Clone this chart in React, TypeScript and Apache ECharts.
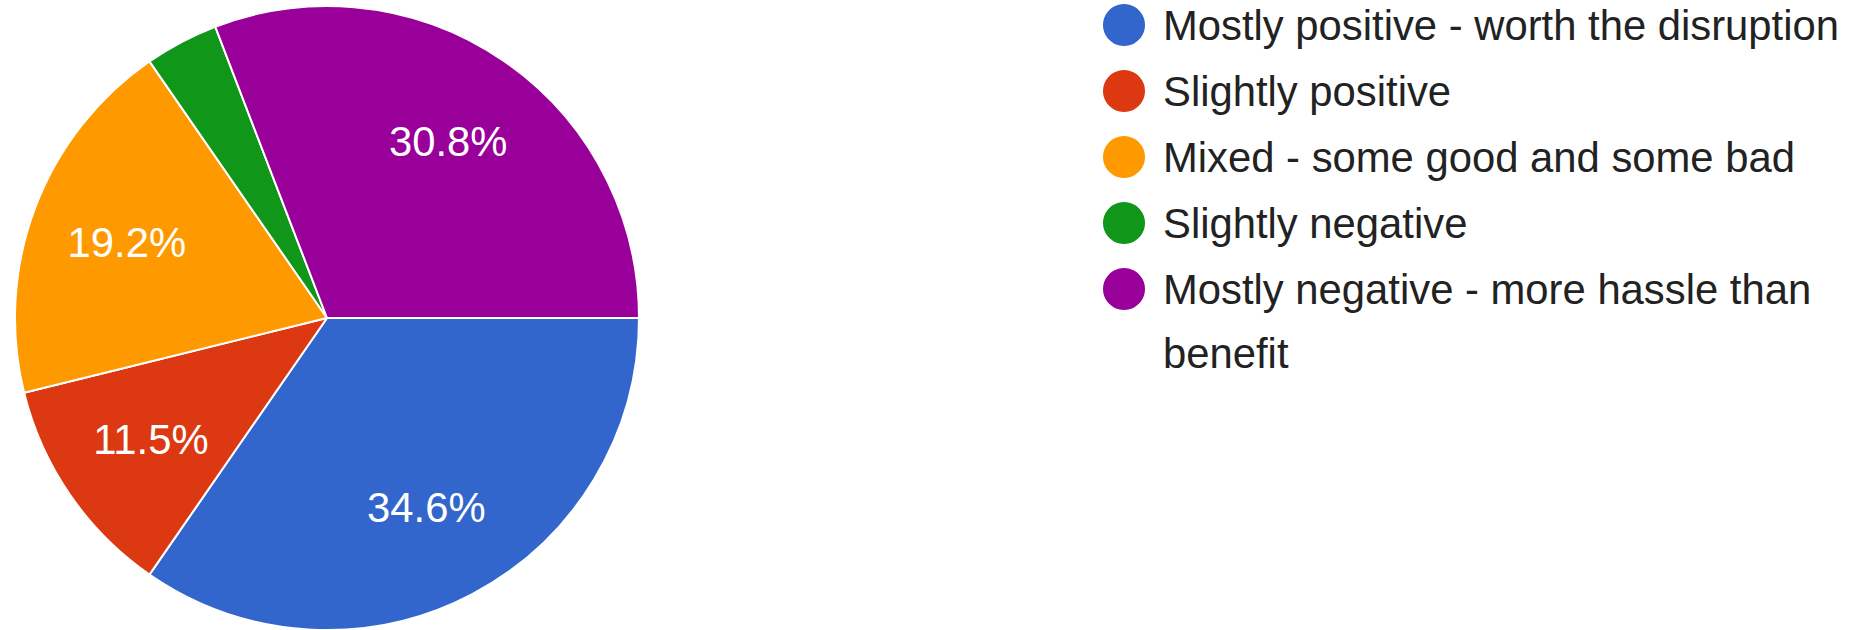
import React, { useEffect, useRef } from "react";
import * as echarts from "echarts";

const categories = [
  "Mostly positive - worth the disruption",
  "Slightly positive",
  "Mixed - some good and some bad",
  "Slightly negative",
  "Mostly negative - more hassle than benefit",
];
const percents = [34.6, 11.5, 19.2, 3.8, 30.8];
const colors = ["#3366cc", "#dc3912", "#ff9900", "#109618", "#990099"];
const legendLines = [
  "Mostly positive - worth the disruption",
  "Slightly positive",
  "Mixed - some good and some bad",
  "Slightly negative",
  "Mostly negative - more hassle than\nbenefit",
];

const FONT = 'Arial, "Liberation Sans", sans-serif';

export default function App() {
  const ref = useRef<HTMLDivElement>(null);
  useEffect(() => {
    document.body.style.margin = "0";
    if (!ref.current) return;
    const chart = echarts.init(ref.current, null, { renderer: "svg" });
    const cx = 327;
    const cy = 318;
    const R = 312;
    const legendX = 1124;
    const legendY0 = 25;
    const legendStep = 66;
    const lineH = 64;
    const graphics: any[] = [];
    categories.forEach((_, i) => {
      const y = legendY0 + legendStep * i;
      graphics.push({
        type: "circle",
        shape: { cx: legendX, cy: y, r: 21 },
        style: { fill: colors[i] },
      });
      const multi = legendLines[i].includes("\n");
      graphics.push({
        type: "text",
        x: legendX + 39,
        y: multi ? y - lineH / 2 : y,
        style: {
          text: legendLines[i],
          fill: "#222222",
          fontSize: 41.8,
          fontFamily: FONT,
          lineHeight: lineH,
          verticalAlign: multi ? "top" : "middle",
          align: "left",
        },
      });
    });
    const data = categories.map((name, i) => ({
      name,
      value: percents[i],
      itemStyle: { color: colors[i] },
    }));
    chart.setOption({
      animation: false,
      backgroundColor: "#ffffff",
      graphic: graphics,
      series: [
        {
          type: "pie",
          center: [cx, cy],
          radius: [0, R],
          startAngle: 0,
          clockwise: true,
          silent: true,
          label: { show: false },
          labelLine: { show: false },
          itemStyle: { borderColor: "#ffffff", borderWidth: 2 },
          data,
        },
        {
          type: "pie",
          center: [cx, cy],
          radius: [110, R],
          startAngle: 0,
          clockwise: true,
          silent: true,
          itemStyle: { color: "rgba(0,0,0,0)", borderWidth: 0 },
          labelLine: { show: false },
          label: {
            show: true,
            position: "inside",
            formatter: "{c}%",
            color: "#ffffff",
            fontSize: 41.8,
            fontFamily: FONT,
            textBorderWidth: 0,
          },
          data: categories.map((name, i) => ({
            name,
            value: percents[i],
            label: { show: percents[i] >= 5 },
          })),
        },
      ],
    });
    return () => chart.dispose();
  }, []);
  return <div ref={ref} style={{ width: 1868, height: 630 }} />;
}
